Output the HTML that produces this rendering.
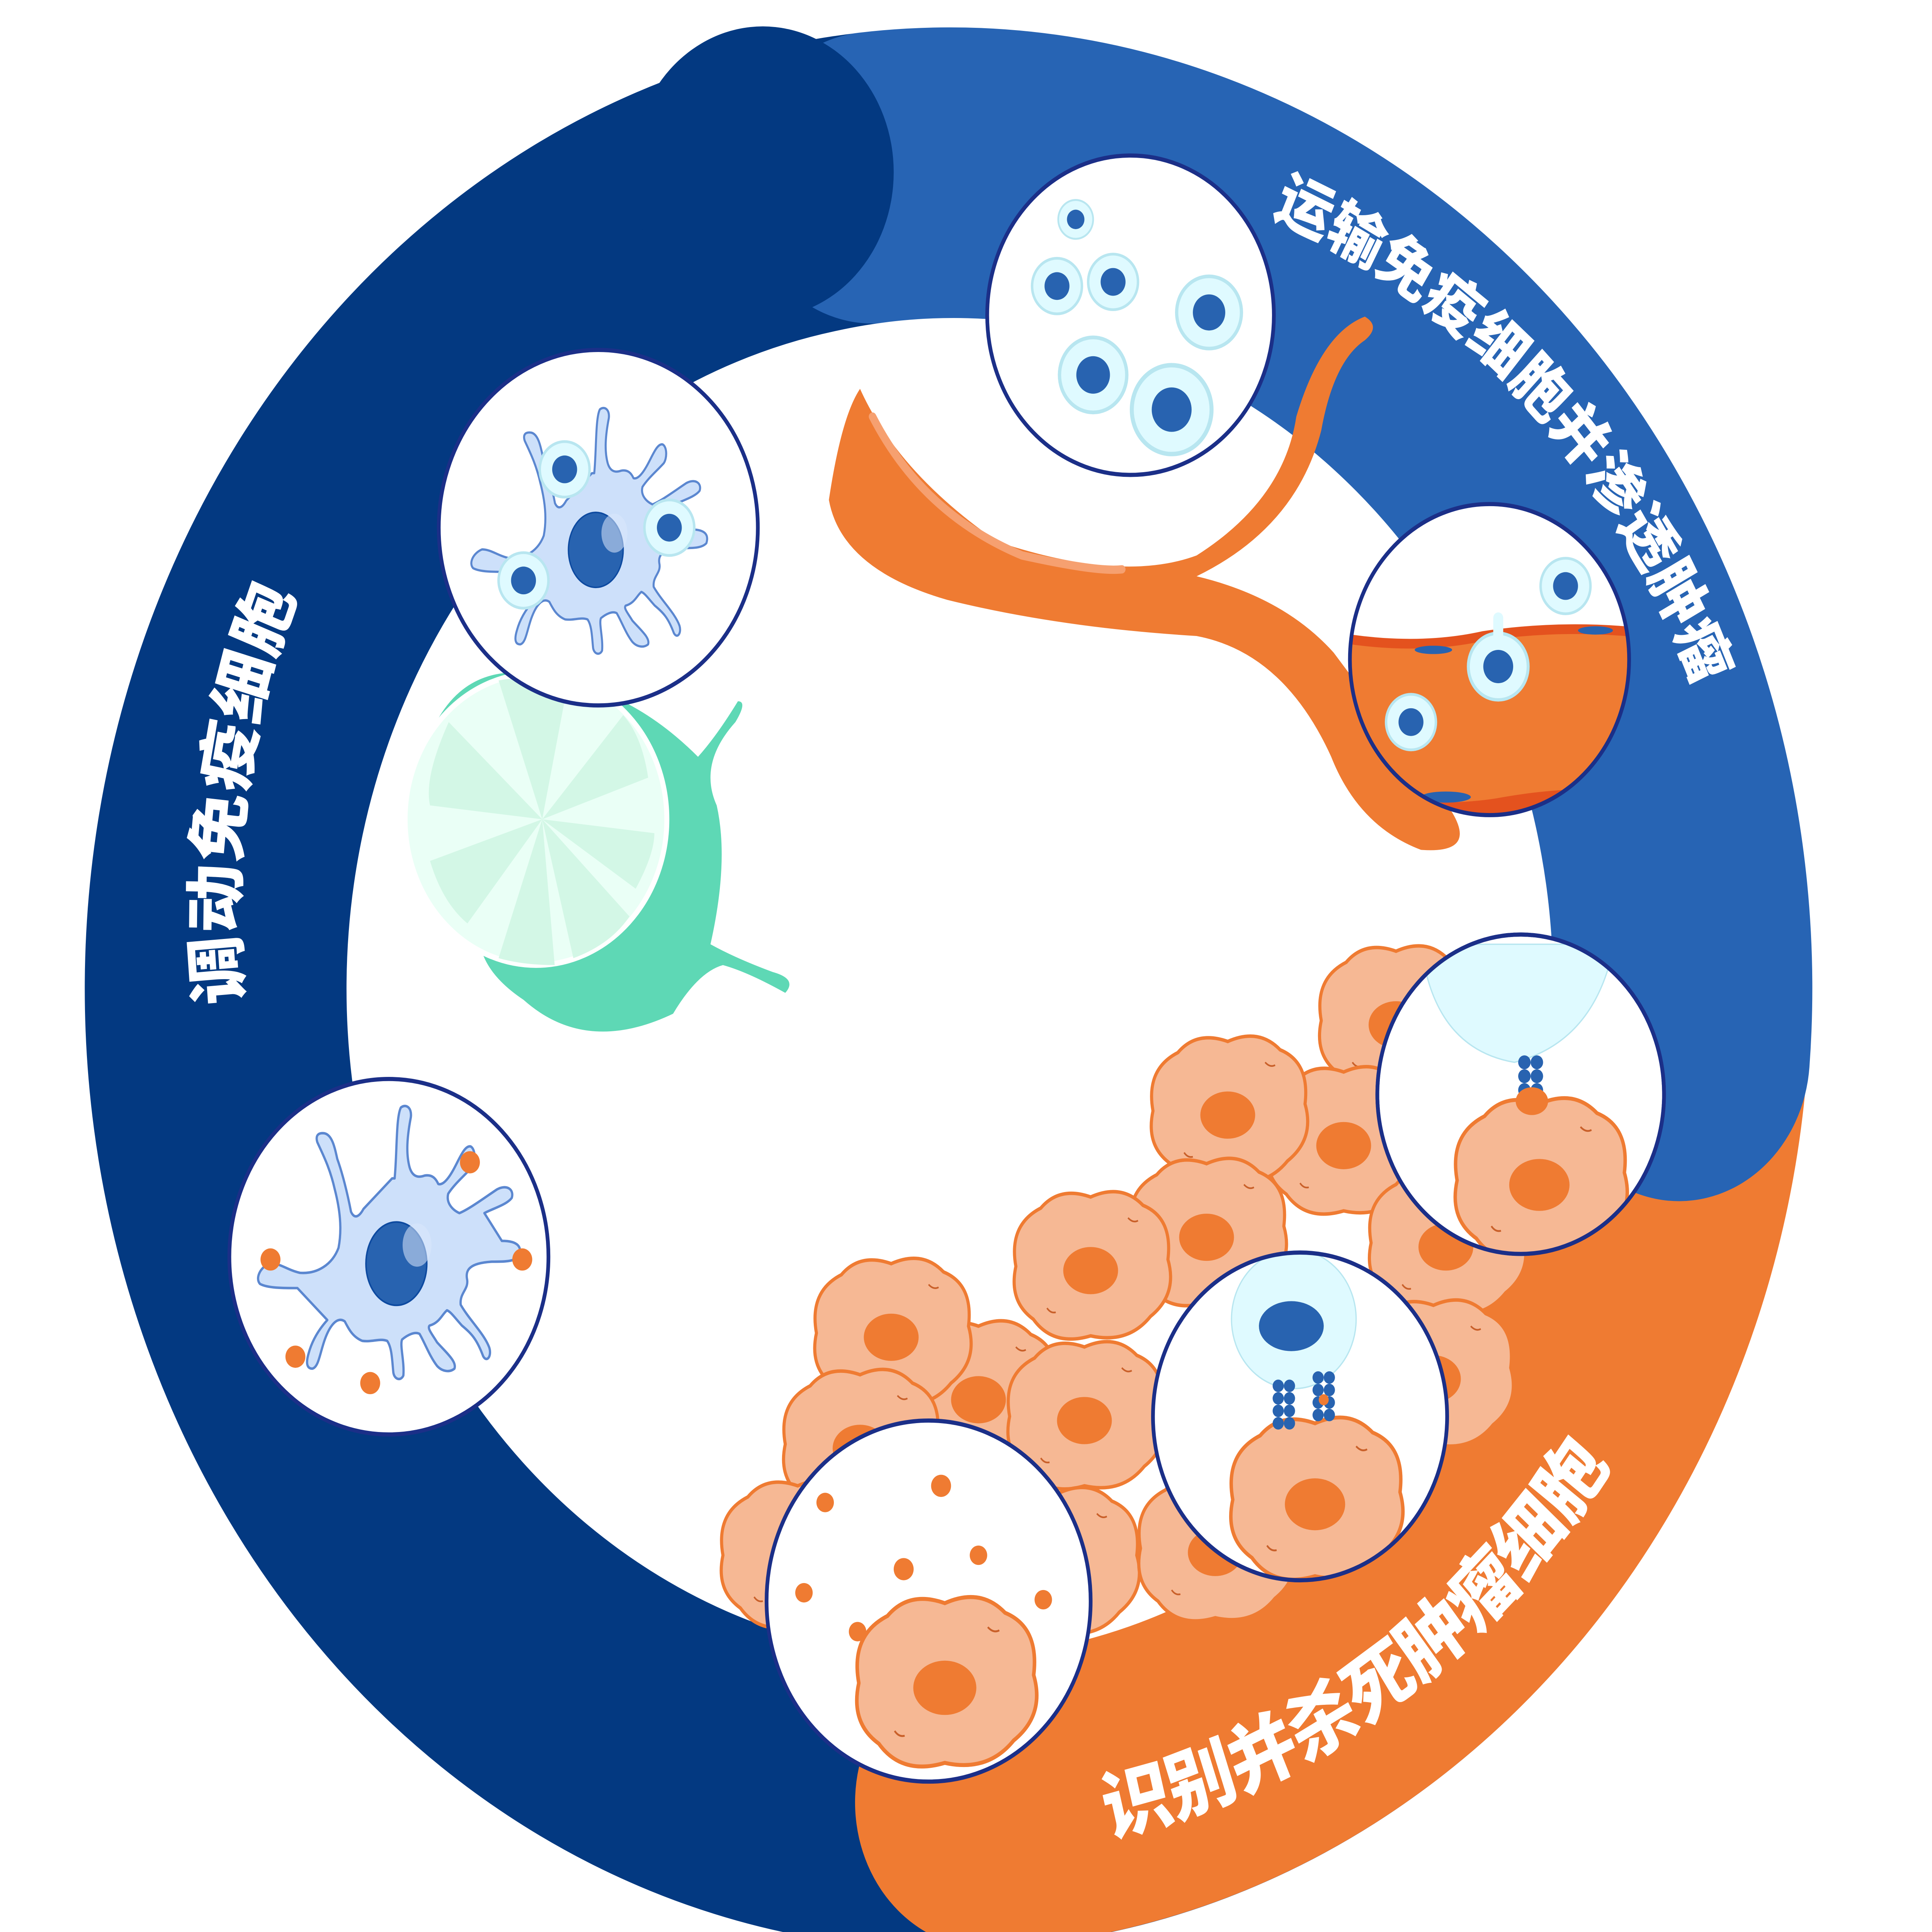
<!DOCTYPE html>
<html><head><meta charset="utf-8">
<style>
html,body{margin:0;padding:0;background:#fff;width:100%;height:100%;overflow:hidden;}
svg{display:block;width:100vw;height:100vh;position:absolute;left:0;top:0;}
text{font-family:"Liberation Sans","Noto Sans CJK SC","WenQuanYi Zen Hei",sans-serif;font-weight:900;fill:#fff;}
</style></head><body>
<svg xmlns="http://www.w3.org/2000/svg" xmlns:xlink="http://www.w3.org/1999/xlink" viewBox="0 0 1550 1391.3" preserveAspectRatio="none">
<defs>
  <g id="tc">
    <path d="M-60,0 Q-66,-30 -40,-42 Q-25,-58 0,-50 Q25,-60 42,-44 Q66,-35 62,-5 Q70,20 48,36 Q30,56 0,50 Q-30,58 -46,38 Q-66,25 -60,0Z" fill="#F6B894" stroke="#EF7B32" stroke-width="2.5"/>
    <ellipse cx="0" cy="3" rx="22" ry="17" fill="#EF7B32"/>
    <path d="M30,-35 q4,4 8,2 M-35,30 q3,4 7,3" stroke="#c9602a" stroke-width="1.2" fill="none"/>
  </g>
  <g id="dcb">
    <path d="M700,520 C710,430 705,300 725,265 C745,250 770,265 765,300 C750,370 745,430 760,480 C770,510 790,520 820,510 C850,505 865,520 875,540 C890,545 910,530 935,490 C960,450 980,400 1005,405 C1025,415 1025,460 1010,480 C980,510 940,540 915,575 C905,610 935,635 960,645 C1000,630 1060,590 1110,560 C1150,540 1180,560 1170,590 C1150,615 1090,630 1060,645 L1130,745 C1200,745 1210,770 1200,800 C1180,820 1140,820 1090,820 C1000,825 985,850 990,880 C1000,920 960,930 965,975 C1000,1030 1060,1080 1080,1130 C1090,1160 1070,1185 1055,1160 C1030,1100 1010,1080 970,1050 C940,1020 925,1000 910,995 C890,1010 880,1040 840,1050 C830,1060 850,1080 870,1110 C910,1150 950,1180 940,1205 C920,1220 890,1215 870,1195 C840,1160 820,1110 800,1080 C780,1070 750,1085 730,1100 C720,1120 740,1180 735,1230 C725,1250 700,1245 695,1220 C690,1180 690,1130 670,1105 C640,1095 610,1110 570,1105 C530,1090 515,1060 500,1035 C470,1015 440,1050 420,1100 C400,1150 395,1200 370,1205 C345,1205 345,1180 355,1150 C370,1100 400,1060 430,1030 L310,915 C250,915 190,915 160,900 C140,880 160,840 200,825 C240,825 270,850 320,860 C390,865 450,830 475,770 C490,700 480,630 460,560 C440,480 410,430 390,390 C380,360 400,355 420,358 C450,365 460,410 470,450 C490,500 510,570 525,640 C540,670 560,655 575,630 L690,520 Z" fill="#CDE0FA" stroke="#5b87d0" stroke-width="9" stroke-linejoin="round"/>
    <ellipse cx="707" cy="827" rx="122" ry="150" fill="#2863B0" stroke="#0d4aa0" stroke-width="6"/>
    <ellipse cx="790" cy="760" rx="58" ry="78" fill="#dbe8fb" opacity=".55"/>
  </g>
  <g id="ic"><circle r="20" fill="#dffaff" stroke="#b8e6f0" stroke-width="2"/><circle r="10" fill="#2863B0"/></g>
  <g id="rec"><g fill="#2863B0"><circle cx="-5" cy="0" r="5"/><circle cx="5" cy="0" r="5"/><circle cx="-5" cy="10" r="5"/><circle cx="5" cy="10" r="5"/><circle cx="-5" cy="20" r="5"/><circle cx="5" cy="20" r="5"/><circle cx="-5" cy="30" r="5"/><circle cx="5" cy="30" r="5"/></g></g>
  <path id="tp1" d="M 195 722 A 565 565 0 0 1 229 450" fill="none"/>
  <path id="tp2" d="M 1020 155 A 615 615 0 0 1 1370 520" fill="none"/>
  <path id="tp3" d="M 890 1322 A 640 640 0 0 0 1330 990" fill="none"/>
  <clipPath id="c3"><circle cx="1195" cy="475" r="111"/></clipPath>
  <clipPath id="c5"><circle cx="1220" cy="788" r="114"/></clipPath>
  <clipPath id="c6"><circle cx="1043" cy="1020" r="117"/></clipPath>
</defs>

<circle cx="760" cy="712" r="587" fill="none" stroke="#033981" stroke-width="210"/>
<path d="M 1347 730 A 587 587 0 0 1 791 1298" fill="none" stroke="#EF7B32" stroke-width="210" stroke-linecap="round"/>
<path d="M 700 128 A 587 587 0 0 1 1347 760" fill="none" stroke="#2764B4" stroke-width="210" stroke-linecap="round"/>
<circle cx="612" cy="124" r="105" fill="#033981"/>
<circle cx="765" cy="710" r="481" fill="#fff"/>

<text font-size="50"><textPath xlink:href="#tp1">调动免疫细胞</textPath></text>
<text font-size="45"><textPath xlink:href="#tp2">运输免疫细胞并渗透肿瘤</textPath></text>
<text font-size="55"><textPath xlink:href="#tp3">识别并杀死肿瘤细胞</textPath></text>

<path d="M350,520 Q330,600 390,650 Q370,690 420,720 Q470,760 540,730 Q560,700 580,695 Q600,700 630,715 Q640,705 620,700 Q590,690 570,680 Q585,620 575,580 Q560,550 590,520 Q600,505 592,505 Q575,530 560,545 Q510,500 450,490 Q380,470 350,520Z" fill="#5ED8B5"/>
<circle cx="430" cy="590" r="105" fill="#eafff6" stroke="#fff" stroke-width="4"/>
<g fill="#d3f7e6"><path d="M435,590 L360,520 Q340,560 345,580Z"/><path d="M435,590 L400,490 Q430,485 455,495Z"/><path d="M435,590 L520,560 Q515,530 500,515Z"/><path d="M435,590 L510,640 Q525,615 525,600Z"/><path d="M435,590 L460,690 Q490,680 505,660Z"/><path d="M435,590 L400,690 Q420,695 445,695Z"/><path d="M435,590 L345,620 Q355,650 375,665Z"/></g>

<path d="M665,360 Q675,300 690,280 Q720,340 800,390 Q900,420 960,400 Q1030,360 1040,300 Q1060,240 1095,228 Q1108,235 1095,245 Q1070,260 1060,310 Q1040,380 960,415 Q1030,430 1070,470 Q1120,530 1165,585 Q1185,615 1140,612 Q1090,595 1068,545 Q1030,470 960,458 Q850,452 760,432 Q675,410 665,360Z" fill="#EF7B32"/>
<path d="M700,300 Q740,370 820,400 Q880,412 900,410" stroke="#f6a070" stroke-width="6" fill="none" stroke-linecap="round"/>

<use xlink:href="#tc" x="1120" y="735"/>
<use xlink:href="#tc" x="1078" y="822"/>
<use xlink:href="#tc" x="985" y="800"/>
<use xlink:href="#tc" x="968" y="888"/>
<use xlink:href="#tc" x="1160" y="895"/>
<use xlink:href="#tc" x="1150" y="990"/>
<use xlink:href="#tc" x="875" y="912"/>
<use xlink:href="#tc" x="785" y="1005"/>
<use xlink:href="#tc" x="715" y="960"/>
<use xlink:href="#tc" x="690" y="1040"/>
<use xlink:href="#tc" x="640" y="1120"/>
<use xlink:href="#tc" x="870" y="1020"/>
<use xlink:href="#tc" x="850" y="1125"/>
<use xlink:href="#tc" x="975" y="1115"/>

<g stroke="#1b2f88" stroke-width="3" fill="#fff">
<circle cx="480" cy="380" r="128"/>
<circle cx="907" cy="227" r="115"/>
<circle cx="312" cy="905" r="128"/>
</g>
<g transform="translate(478 396) scale(0.18) translate(-707 -827)"><use xlink:href="#dcb"/></g>
<use xlink:href="#ic" x="453" y="338"/><use xlink:href="#ic" x="537" y="380"/><use xlink:href="#ic" x="420" y="418"/>
<g transform="translate(318 910) scale(0.2) translate(-707 -827)"><use xlink:href="#dcb"/></g>
<g fill="#EF7B32"><circle cx="377" cy="837" r="8"/><circle cx="217" cy="907" r="8"/><circle cx="419" cy="907" r="8"/><circle cx="237" cy="977" r="8"/><circle cx="297" cy="996" r="8"/></g>
<g transform="translate(863 158) scale(.7)"><use xlink:href="#ic"/></g>
<use xlink:href="#ic" x="848" y="206"/><use xlink:href="#ic" x="893" y="203"/>
<g transform="translate(970 225) scale(1.3)"><use xlink:href="#ic"/></g>
<g transform="translate(877 270) scale(1.35)"><use xlink:href="#ic"/></g>
<g transform="translate(940 295) scale(1.6)"><use xlink:href="#ic"/></g>

<circle cx="1195" cy="475" r="112" fill="#fff"/>
<g clip-path="url(#c3)">
<path d="M1080,460 Q1140,468 1190,458 Q1250,450 1310,455 L1310,600 L1080,600Z" fill="#EF7B32"/>
<path d="M1080,460 Q1140,468 1190,458 Q1250,450 1310,455" stroke="#e4521e" stroke-width="7" fill="none"/>
<path d="M1080,572 Q1150,582 1200,575 Q1260,565 1310,570 L1310,600 L1080,600Z" fill="#e4521e"/>
<ellipse cx="1150" cy="468" rx="15" ry="3" fill="#2863B0"/><ellipse cx="1280" cy="454" rx="14" ry="3" fill="#2863B0"/>
<ellipse cx="1160" cy="574" rx="20" ry="4" fill="#2863B0"/>
</g>
<circle cx="1195" cy="475" r="112" fill="none" stroke="#1b2f88" stroke-width="3"/>
<use xlink:href="#ic" x="1256" y="422"/>
<g transform="translate(1202 480) scale(1.2)"><use xlink:href="#ic"/></g>
<path d="M1202,458 L1202,445" stroke="#dffaff" stroke-width="8" stroke-linecap="round"/>
<use xlink:href="#ic" x="1132" y="520"/>

<circle cx="1220" cy="788" r="115" fill="#fff" stroke="#1b2f88" stroke-width="3"/>
<g clip-path="url(#c5)">
<path d="M1140,680 L1295,680 Q1280,750 1215,765 Q1150,755 1140,680Z" fill="#dffaff" stroke="#b8e6f0"/>
<g transform="translate(1235 850) scale(1.1)"><use xlink:href="#tc"/></g>
</g>
<g transform="translate(1228 765)"><use xlink:href="#rec"/></g>
<ellipse cx="1229" cy="793" rx="13" ry="10" fill="#EF7B32"/>
<circle cx="1220" cy="788" r="115" fill="none" stroke="#1b2f88" stroke-width="3"/>

<circle cx="1043" cy="1020" r="118" fill="#fff"/>
<g clip-path="url(#c6)">
<circle cx="1038" cy="950" r="50" fill="#dffaff" stroke="#b8e6f0"/>
<ellipse cx="1036" cy="955" rx="26" ry="18" fill="#2863B0"/>
<g transform="translate(1055 1080) scale(1.1)"><use xlink:href="#tc"/></g>
</g>
<g transform="translate(1030 998) scale(.9)"><use xlink:href="#rec"/></g>
<g transform="translate(1062 992) scale(.9)"><use xlink:href="#rec"/></g>
<circle cx="1062" cy="1008" r="4" fill="#EF7B32"/>
<circle cx="1043" cy="1020" r="118" fill="none" stroke="#1b2f88" stroke-width="3"/>

<circle cx="745" cy="1153" r="130" fill="#fff" stroke="#1b2f88" stroke-width="3"/>
<g transform="translate(758 1212) scale(1.15)"><use xlink:href="#tc"/></g>
<g fill="#EF7B32"><circle cx="662" cy="1082" r="7"/><circle cx="755" cy="1070" r="8"/><circle cx="785" cy="1120" r="7"/><circle cx="725" cy="1130" r="8"/><circle cx="645" cy="1147" r="7"/><circle cx="688" cy="1175" r="7"/><circle cx="837" cy="1152" r="7"/></g>
</svg>
</body></html>
